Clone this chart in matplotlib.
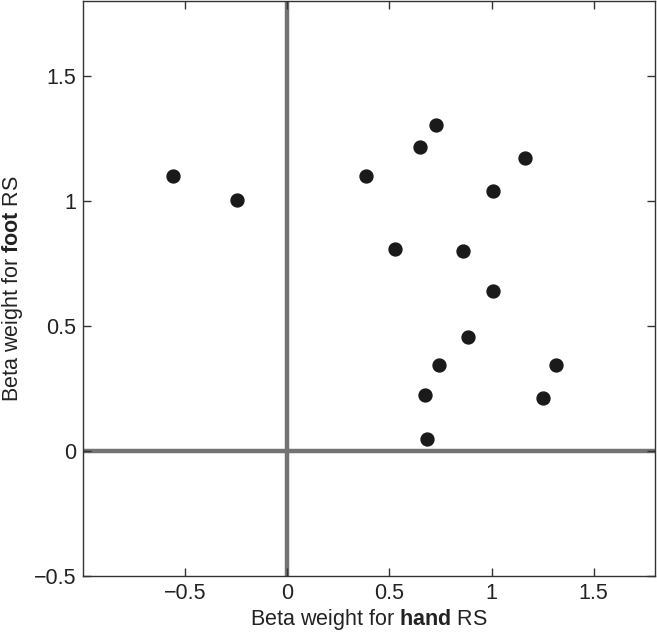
import matplotlib
matplotlib.use("Agg")
import matplotlib.pyplot as plt

plt.rcParams['font.family'] = ['Liberation Sans', 'DejaVu Sans']
plt.rcParams['mathtext.fontset'] = 'custom'
plt.rcParams['mathtext.rm'] = 'Liberation Sans'
plt.rcParams['mathtext.bf'] = 'Liberation Sans:bold'

hand_beta = [-0.561, -0.248, 0.386, 0.528, 0.652, 0.672, 0.682, 0.726, 0.744,
             0.860, 0.887, 1.009, 1.009, 1.163, 1.252, 1.314]
foot_beta = [1.100, 1.005, 1.100, 0.809, 1.216, 0.226, 0.050, 1.303, 0.343,
             0.801, 0.458, 1.041, 0.641, 1.173, 0.212, 0.343]

xticks = [-0.5, 0, 0.5, 1, 1.5]
xticklabels = ['\u22120.5', '0', '0.5', '1', '1.5']
yticks = [-0.5, 0, 0.5, 1, 1.5]
yticklabels = ['\u22120.5', '0', '0.5', '1', '1.5']

fig = plt.figure(figsize=(6.57, 6.34), dpi=100)
ax = fig.add_axes([83/657, 58/634, (655-83)/657, (576-1)/634])

ax.axvline(0, color='#737373', lw=3.2, zorder=1)
ax.axhline(0, color='#737373', lw=3.2, zorder=1)
ax.plot(hand_beta, foot_beta, 'o', color='#1a1a1a', markersize=9.3, zorder=3)

ax.set_xlim(-1.0, 1.8)
ax.set_ylim(-0.5, 1.8)
ax.set_xticks(xticks)
ax.set_xticklabels(xticklabels)
ax.set_yticks(yticks)
ax.set_yticklabels(yticklabels)
ax.tick_params(direction='in', top=True, right=True, length=6, width=1,
               color='#333333', labelsize=15.5, labelcolor='#222222', pad=5)
for s in ax.spines.values():
    s.set_color('#333333')
    s.set_linewidth(1.0)

ax.set_xlabel(r'Beta weight for $\mathbf{hand}$ RS', fontsize=15.5, color='#222222', labelpad=2)
ax.set_ylabel(r'Beta weight for $\mathbf{foot}$ RS', fontsize=15.5, color='#222222', labelpad=6)

fig.savefig('out.png', dpi=100)
